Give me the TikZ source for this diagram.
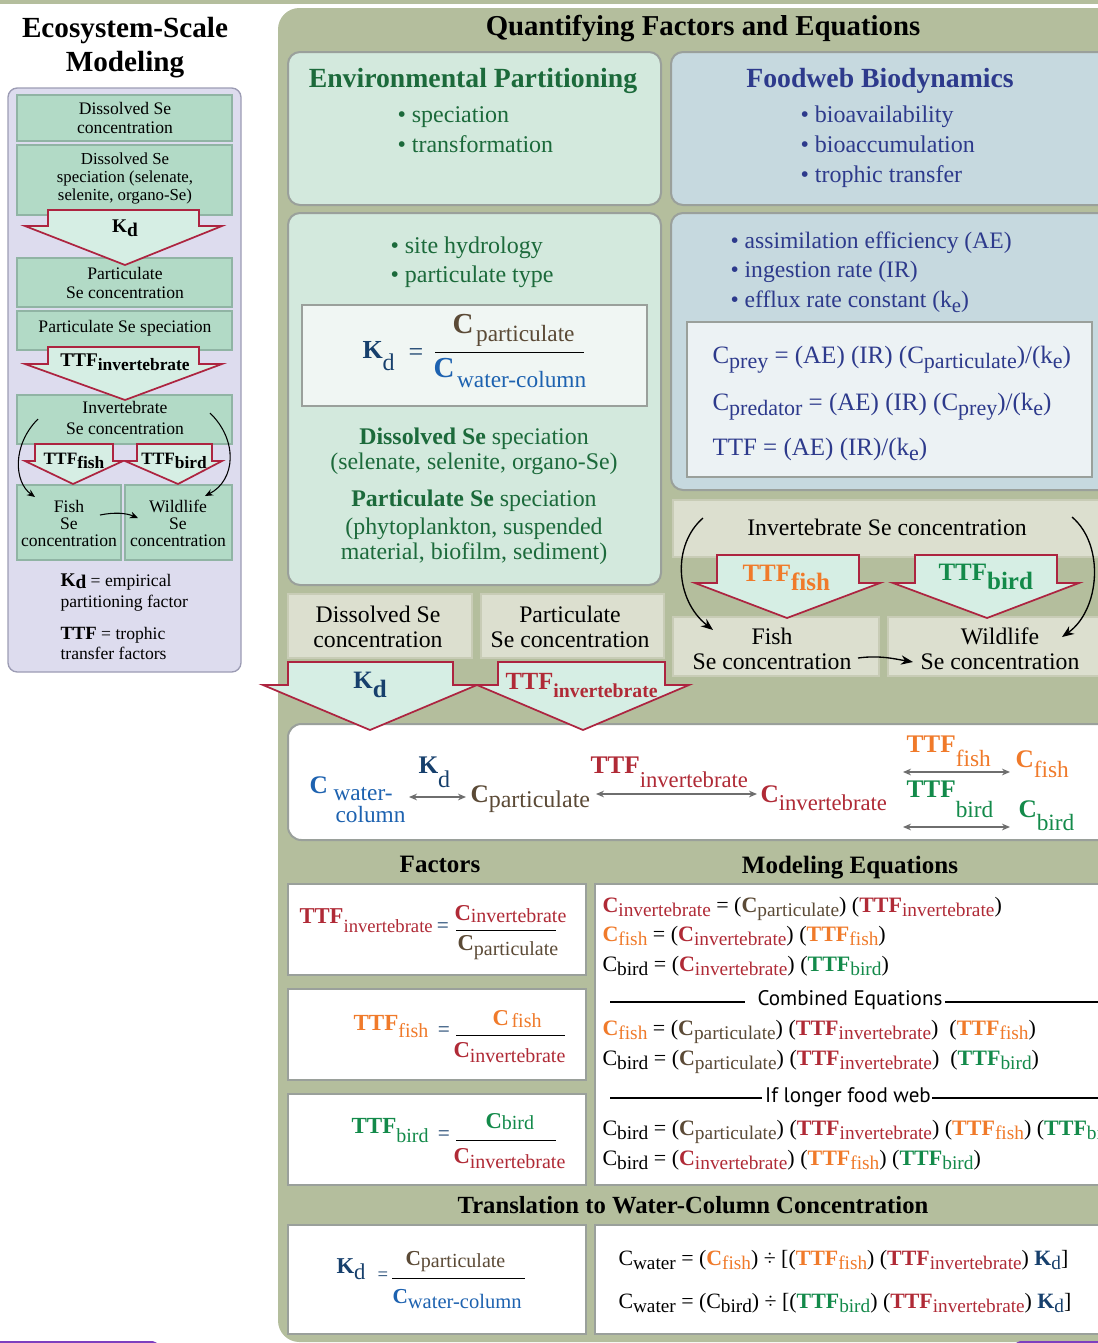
\documentclass[tikz,border=0pt]{standalone}
\usepackage{fontspec}
\usepackage{graphicx}
\setmainfont{Liberation Serif}
\newfontfamily\sansf{PT Sans}
\usetikzlibrary{arrows.meta}

\definecolor{olivebg}{HTML}{B4BE9D}
\definecolor{lavfill}{HTML}{DDDCEE}
\definecolor{lavbd}{HTML}{9C9CB4}
\definecolor{lgreen}{HTML}{B2DAC6}
\definecolor{lgreenbd}{HTML}{90B4A4}
\definecolor{arrfill}{HTML}{D6EEE4}
\definecolor{crim}{HTML}{AD2440}
\definecolor{crimtx}{HTML}{B02A36}
\definecolor{envfill}{HTML}{D3E9DD}
\definecolor{fwfill}{HTML}{C6D9DF}
\definecolor{boxbd}{HTML}{9AA09B}
\definecolor{envin}{HTML}{F0F6F3}
\definecolor{fwin}{HTML}{ECF2F4}
\definecolor{beigefill}{HTML}{DCDFCF}
\definecolor{beigebd}{HTML}{C8CCB6}
\definecolor{dkgreen}{HTML}{1C6A3B}
\definecolor{navyfw}{HTML}{2D3A8C}
\definecolor{navyk}{HTML}{163F6C}
\definecolor{cblue}{HTML}{1D62B0}
\definecolor{brn}{HTML}{5B4A36}
\definecolor{orng}{HTML}{F07A2A}
\definecolor{grn}{HTML}{138A4A}
\definecolor{arrgray}{HTML}{6E6E6E}
\definecolor{purp}{HTML}{7E3FBF}

\newcommand{\fsz}[2]{\fontsize{#1}{#2}\selectfont}
\newcommand{\dn}[2]{\raisebox{-#1pt}{#2}}
\newcommand{\sbx}[2][3]{\raisebox{-#1pt}{\scalebox{.88}{#2}}}
\newcommand{\Cc}[3][3]{{\color{#2}\textbf{C}\sbx[#1]{#3}}}
\newcommand{\Tt}[3][3]{{\color{#2}\textbf{TTF}\sbx[#1]{#3}}}
\newcommand{\Cn}[2][3]{C\sbx[#1]{#2}}
\newcommand{\Kdd}[1][3]{{\color{navyk}\textbf{K}\sbx[#1]{d}}}
\newcommand{\lsz}{\fsz{13.2}{15}}

\tikzset{every picture/.style={line width=0.75pt}}
\tikzset{
  txt/.style={inner sep=0pt, anchor=base},
  txtw/.style={inner sep=0pt, anchor=base west},
  lbox/.style={fill=lgreen, draw=lgreenbd, line width=1pt},
  lavpanel/.style={fill=lavfill, draw=lavbd, line width=1pt, rounded corners=7},
  bigarr/.style={fill=arrfill, draw=crim, line width=1.3pt},
  envbox/.style={fill=envfill, draw=boxbd, line width=1.5pt, rounded corners=9},
  fwbox/.style={fill=fwfill, draw=boxbd, line width=1.5pt, rounded corners=9},
  beige/.style={fill=beigefill, draw=beigebd, line width=1.2pt},
  wbox/.style={fill=white, draw=boxbd, line width=1.5pt},
  curv/.style={-{Stealth[length=9pt,width=7pt]}, line width=1pt},
  curvs/.style={-{Stealth[length=6pt,width=5pt]}, line width=0.8pt},
  dbl/.style={{Stealth[length=6pt,width=5pt]}-{Stealth[length=6pt,width=5pt]}, draw=arrgray, line width=1.4pt},
  rule/.style={line width=1.1pt},
}

\begin{document}
\begin{tikzpicture}[x=0.75pt,y=0.75pt,yscale=-1,xscale=1]
\path[use as bounding box] (0,0) rectangle (1098,1343);
%Shape: Rectangle
\fill[olivebg] (0,0) rectangle (1098,4);

%%%%%%%%%% left column
% Text Node
\draw (125,37) node (lttlA) [txt, font=\fsz{21.9}{24}\bfseries] {Ecosystem-Scale};
% Text Node
\draw (125,71) node (lttlB) [txt, font=\fsz{21.9}{24}\bfseries] {Modeling};
%Shape: Rounded Rectangle
\draw[lavpanel] (8,88) rectangle (241,672);
%Shape: Rectangle
\draw[lbox] (17,95) rectangle (232,141);
\draw[lbox] (17,145) rectangle (232,215);
\draw[lbox] (17,258) rectangle (232,307);
\draw[lbox] (17,311) rectangle (232,350);
\draw[lbox] (17,395) rectangle (232,444);
\draw[lbox] (17,485) rectangle (121,560);
\draw[lbox] (125,485) rectangle (232,560);
% Text Node
\draw (125,114) node (ldsA) [txt, font=\lsz] {Dissolved Se};
\draw (125,133) node (ldsB) [txt, font=\lsz] {concentration};
\draw (125,164) node (ldpA) [txt, font=\fsz{12.6}{14}] {Dissolved Se};
\draw (125,182) node (ldpB) [txt, font=\fsz{12.6}{14}] {speciation (selenate,};
\draw (125,200) node (ldpC) [txt, font=\fsz{12.6}{14}] {selenite, organo-Se)};
\draw (125,279) node (lpcA) [txt, font=\lsz] {Particulate};
\draw (125,298) node (lpcB) [txt, font=\lsz] {Se concentration};
\draw (125,332) node (lpsA) [txt, font=\lsz] {Particulate Se speciation};
\draw (125,413) node (licA) [txt, font=\lsz] {Invertebrate};
\draw (125,434) node (licB) [txt, font=\lsz] {Se concentration};
\draw (69,512) node (lfcA) [txt, font=\lsz] {Fish};
\draw (69,529) node (lfcB) [txt, font=\lsz] {Se};
\draw (69,546) node (lfcC) [txt, font=\lsz] {concentration};
\draw (178,512) node (lwcA) [txt, font=\lsz] {Wildlife};
\draw (178,529) node (lwcB) [txt, font=\lsz] {Se};
\draw (178,546) node (lwcC) [txt, font=\lsz] {concentration};
%Shape: Down Arrow
\draw[bigarr] (48,210) -- (199,210) -- (199,226) -- (222,226) -- (125,265) -- (25,226) -- (48,226) -- cycle;
\draw (125,232) node (lkd) [txt, font=\fsz{14.5}{16}\bfseries] {K\dn{3}{d}};
%Shape: Down Arrow
\draw[bigarr] (48,347) -- (199,347) -- (199,364) -- (222,364) -- (125,400) -- (25,364) -- (48,364) -- cycle;
\draw (125,366) node (lttfi) [txt, font=\fsz{14.5}{16}\bfseries] {TTF\dn{3}{\scalebox{.9}{invertebrate}}};
%Shape: Down Arrow
\draw[bigarr] (35,444) -- (113,444) -- (113,461) -- (123,461) -- (73,484) -- (25,461) -- (35,461) -- cycle;
\draw (74,464) node (lttff) [txt, font=\fsz{13}{15}\bfseries] {TTF\dn{3}{fish}};
%Shape: Down Arrow
\draw[bigarr] (137,444) -- (212,444) -- (212,461) -- (222,461) -- (178,484) -- (125,461) -- (137,461) -- cycle;
\draw (174,464) node (lttfb) [txt, font=\fsz{13}{15}\bfseries] {TTF\dn{3}{bird}};
%Curve Lines
\coordinate (liA) at (38,419);
\coordinate (lfA) at (35,497);
\coordinate (liB) at (210,413);
\coordinate (lwB) at (205,496);
\coordinate (lfC) at (100,515);
\coordinate (lwC) at (138,518);
\draw[curvs] (liA) .. controls (12,445) and (14,482) .. (lfA);
\draw[curvs] (liB) .. controls (238,440) and (236,480) .. (lwB);
\draw[curvs] (lfC) .. controls (115,512) and (126,513) .. (lwC);
% Text Node
\draw (60,586) node (lgA) [txtw, font=\lsz] {{\fsz{14.5}{16}\bfseries K\dn{1.5}{d}} = empirical};
\draw (60,607) node (lgB) [txtw, font=\lsz] {partitioning factor};
\draw (60,639) node (lgC) [txtw, font=\lsz] {{\fsz{14}{16}\bfseries TTF} = trophic};
\draw (60,659) node (lgD) [txtw, font=\lsz] {transfer factors};
%Shape: Rounded Rectangle
\fill[purp, rounded corners=4] (-10,1341) rectangle (158,1355);

%%%%%%%%%% right panel
%Shape: Rounded Rectangle
\fill[olivebg, rounded corners=16] (278,8) rectangle (1130,1342);
\draw (703,35) node (qttl) [txt, font=\fsz{21.6}{24}\bfseries] {Quantifying Factors and Equations};

%Shape: Rounded Rectangle
\draw[envbox] (288,52) rectangle (661,205);
\draw (473,87) node (envttl) [txt, font=\fsz{20.8}{24}\bfseries, text=dkgreen] {Environmental Partitioning};
\draw (397,122) node (envA) [txtw, font=\fsz{18}{21}, text=dkgreen] {\textbullet\ speciation};
\draw (397,152) node (envB) [txtw, font=\fsz{18}{21}, text=dkgreen] {\textbullet\ transformation};
%Shape: Rounded Rectangle
\draw[fwbox] (671,52) rectangle (1120,205);
\draw (880,87) node (fwttl) [txt, font=\fsz{20.8}{24}\bfseries, text=navyfw] {Foodweb Biodynamics};
\draw (800,122) node (fwA) [txtw, font=\fsz{18}{21}, text=navyfw] {\textbullet\ bioavailability};
\draw (800,152) node (fwB) [txtw, font=\fsz{18}{21}, text=navyfw] {\textbullet\ bioaccumulation};
\draw (800,182) node (fwC) [txtw, font=\fsz{18}{21}, text=navyfw] {\textbullet\ trophic transfer};

%Shape: Rounded Rectangle
\draw[envbox] (288,213) rectangle (661,585);
\draw (390,253) node (envC) [txtw, font=\fsz{18}{21}, text=dkgreen] {\textbullet\ site hydrology};
\draw (390,282) node (envD) [txtw, font=\fsz{18}{21}, text=dkgreen] {\textbullet\ particulate type};
%Shape: Rectangle
\draw[fill=envin, draw=boxbd, line width=1.5pt] (302,305) rectangle (647,406);
\draw (362,358) node (ekd) [txtw, font=\fsz{19.5}{22}\bfseries, text=navyk] {K\dn{9.5}{\fsz{18}{20}\mdseries d}};
\draw (416,360) node (eeq) [txt, font=\fsz{19.5}{22}, text=navyk] {=};
\draw (452,333) node (enum) [txtw, font=\fsz{21.75}{24}, text=brn] {\textbf{C}\hspace{2pt}\dn{6}{\fsz{17.5}{20}particulate}};
\draw (435,352) -- (584,352);
\draw (433,377) node (eden) [txtw, font=\fsz{21.75}{24}, text=cblue] {\textbf{C}\hspace{2pt}\dn{7.5}{\fsz{17.5}{20}water-column}};
\draw (474,444) node (edsA) [txt, font=\fsz{17.9}{21}, text=dkgreen] {\textbf{Dissolved Se} speciation};
\draw (474,469) node (edsB) [txt, font=\fsz{17.9}{21}, text=dkgreen] {(selenate, selenite, organo-Se)};
\draw (474,506) node (epsA) [txt, font=\fsz{17.9}{21}, text=dkgreen] {\textbf{Particulate Se} speciation};
\draw (474,534) node (epsB) [txt, font=\fsz{17.9}{21}, text=dkgreen] {(phytoplankton, suspended};
\draw (474,559) node (epsC) [txt, font=\fsz{17.9}{21}, text=dkgreen] {material, biofilm, sediment)};

%Shape: Rounded Rectangle
\draw[fwbox] (671,213) rectangle (1120,490);
\draw (730,248) node (fwD) [txtw, font=\fsz{17.7}{21}, text=navyfw] {\textbullet\ assimilation efficiency (AE)};
\draw (730,277) node (fwE) [txtw, font=\fsz{17.7}{21}, text=navyfw] {\textbullet\ ingestion rate (IR)};
\draw (730,307) node (fwF) [txtw, font=\fsz{17.7}{21}, text=navyfw] {\textbullet\ efflux rate constant (k\sbx[4]{e})};
%Shape: Rectangle
\draw[fill=fwin, draw=boxbd, line width=1.5pt] (687,322) rectangle (1092,477);
\draw (712,363) node (feqA) [txtw, font=\fsz{18.75}{21}, text=navyfw] {C\sbx[4]{prey} = (AE) (IR) (C\sbx[4]{particulate})/(k\sbx[4]{e})};
\draw (712,410) node (feqB) [txtw, font=\fsz{18.75}{21}, text=navyfw] {C\sbx[4]{predator} = (AE) (IR) (C\sbx[4]{prey})/(k\sbx[4]{e})};
\draw (712,455) node (feqC) [txtw, font=\fsz{18.75}{21}, text=navyfw] {TTF = (AE) (IR)/(k\sbx[4]{e})};

%Shape: Rectangle
\draw[beige] (288,594) rectangle (472,658);
\draw[beige] (481,594) rectangle (664,658);
\draw[beige] (673,500) rectangle (1120,557);
\draw[beige] (673,617) rectangle (879,676);
\draw[beige] (888,617) rectangle (1120,676);
\draw (378,622) node (bdsA) [txt, font=\fsz{17.8}{21}] {Dissolved Se};
\draw (378,647) node (bdsB) [txt, font=\fsz{17.8}{21}] {concentration};
\draw (570,622) node (bpcA) [txt, font=\fsz{17.8}{21}] {Particulate};
\draw (570,647) node (bpcB) [txt, font=\fsz{17.8}{21}] {Se concentration};
\draw (887,535) node (bic) [txt, font=\fsz{17.8}{21}] {Invertebrate Se concentration};
\draw (772,644) node (bfcA) [txt, font=\fsz{17.8}{21}] {Fish};
\draw (772,669) node (bfcB) [txt, font=\fsz{17.8}{21}] {Se concentration};
\draw (1000,644) node (bwcA) [txt, font=\fsz{17.8}{21}] {Wildlife};
\draw (1000,669) node (bwcB) [txt, font=\fsz{17.8}{21}] {Se concentration};

%Shape: Rounded Rectangle
\draw[wbox, rounded corners=10] (288,724) rectangle (1120,840);

%Shape: Down Arrow
\draw[bigarr] (288,662) -- (453,662) -- (453,685) -- (477,685) -- (370,730) -- (263,685) -- (288,685) -- cycle;
\draw (370,688) node (bkd) [txt, font=\fsz{18.75}{21}\bfseries, text=navyk] {K\dn{7}{d}};
%Shape: Down Arrow
\draw[bigarr] (498,662) -- (665,662) -- (665,685) -- (689,685) -- (583,730) -- (477,685) -- (498,685) -- cycle;
\draw (505,689) node (bttfi) [txtw, font=\fsz{18.5}{21}\bfseries, text=crimtx] {TTF\dn{6}{\scalebox{.8}{invertebrate}}};
%Shape: Down Arrow
\draw[bigarr] (717,555) -- (859,555) -- (859,583) -- (880,583) -- (787,618) -- (695,583) -- (717,583) -- cycle;
\draw (742,581) node (bttff) [txtw, font=\fsz{18.75}{21}\bfseries, text=orng] {TTF\dn{7}{fish}};
%Shape: Down Arrow
\draw[bigarr] (915,555) -- (1057,555) -- (1057,583) -- (1079,583) -- (987,618) -- (893,583) -- (915,583) -- cycle;
\draw (938,580) node (bttfb) [txtw, font=\fsz{18.75}{21}\bfseries, text=grn] {TTF\dn{7}{bird}};
%Curve Lines
\coordinate (riA) at (703,518);
\coordinate (rfA) at (713,630);
\coordinate (riB) at (1072,517);
\coordinate (rwB) at (1062,637);
\coordinate (rfC) at (858,658);
\coordinate (rwC) at (913,662);
\draw[curv] (riA) .. controls (672,545) and (675,600) .. (rfA);
\draw[curv] (riB) .. controls (1105,545) and (1100,610) .. (rwB);
\draw[curv] (rfC) .. controls (880,655) and (895,659) .. (rwC);

% white band
\draw (309,793) node (wcw) [txtw, font=\fsz{19}{21}\bfseries, text=cblue] {C};
\draw (333,800) node (wcwA) [txtw, font=\fsz{17.5}{20}, text=cblue] {water-};
\draw (335,822) node (wcwB) [txtw, font=\fsz{17.5}{20}, text=cblue] {column};
\draw (418,773) node (wkd) [txtw, font=\fsz{19}{21}, text=navyk] {\textbf{K}\dn{11}{\fsz{18}{20}d}};
\draw (470,802) node (wcp) [txtw, font=\fsz{19}{21}, text=brn] {\textbf{C}\dn{3.75}{\fsz{18}{20}particulate}};
\draw (590,773) node (wti) [txtw, font=\fsz{19}{21}, text=crimtx] {\textbf{TTF}\dn{10.5}{\fsz{17}{20}invertebrate}};
\draw (760,802) node (wci) [txtw, font=\fsz{19}{21}, text=crimtx] {\textbf{C}\dn{6}{\fsz{17}{20}invertebrate}};
\draw (906,752) node (wtf) [txtw, font=\fsz{19}{21}, text=orng] {\textbf{TTF}\dn{11}{\fsz{17.5}{20}fish}};
\draw (1015,767) node (wcf) [txtw, font=\fsz{19}{21}, text=orng] {\textbf{C}\dn{7.5}{\fsz{17.5}{20}fish}};
\draw (906,797) node (wtb) [txtw, font=\fsz{19}{21}, text=grn] {\textbf{TTF}\dn{15}{\fsz{17.5}{20}bird}};
\draw (1018,817) node (wcb) [txtw, font=\fsz{19}{21}, text=grn] {\textbf{C}\dn{9.75}{\fsz{17.5}{20}bird}};
\coordinate (wa1) at (409,797);
\coordinate (wa2) at (466,797);
\coordinate (wa3) at (596,794);
\coordinate (wa4) at (757,794);
\coordinate (wa5) at (903,772);
\coordinate (wa6) at (1010,772);
\coordinate (wa7) at (903,827);
\coordinate (wa8) at (1010,827);
\draw[dbl] (wa1) -- (wa2);
\draw[dbl] (wa3) -- (wa4);
\draw[dbl] (wa5) -- (wa6);
\draw[dbl] (wa7) -- (wa8);

% Text Node
\draw (440,872) node (hfac) [txt, font=\fsz{18.75}{21}\bfseries] {Factors};
\draw (850,873) node (hmod) [txt, font=\fsz{18.75}{21}\bfseries] {Modeling Equations};

%Shape: Rectangle
\draw[wbox] (288,884) rectangle (586,975);
\draw[wbox] (288,989) rectangle (586,1080);
\draw[wbox] (288,1094) rectangle (586,1185);
\draw[wbox] (595,884) rectangle (1120,1185);

\draw (299,923) node (fti) [txtw, font=\fsz{17}{19}, text=crimtx] {\textbf{TTF}\dn{6.75}{\fsz{14}{16}invertebrate}};
\draw (443,932) node (fteA) [txt, font=\fsz{16}{18}, text=navyk] {=};
\draw (454,920) node (ftiN) [txtw, font=\fsz{17}{19}, text=crimtx] {\textbf{C}\dn{1.5}{\fsz{15}{17}invertebrate}};
\draw (456,930) -- (556,930);
\draw (457,950) node (ftiD) [txtw, font=\fsz{17}{19}, text=brn] {\textbf{C}\dn{3.75}{\fsz{15}{17}particulate}};

\draw (353,1030) node (ftf) [txtw, font=\fsz{17.3}{19}, text=orng] {\textbf{TTF}\dn{5.25}{\fsz{15}{17}fish}};
\draw (444,1036) node (fteB) [txt, font=\fsz{16}{18}, text=navyk] {=};
\draw (492,1025) node (ftfN) [txtw, font=\fsz{17}{19}, text=orng] {\textbf{C}\hspace{2pt}\dn{1.5}{\fsz{15}{17}fish}};
\draw (456,1035) -- (565,1035);
\draw (453,1057) node (ftfD) [txtw, font=\fsz{17}{19}, text=crimtx] {\textbf{C}\dn{3.75}{\fsz{15}{17}invertebrate}};

\draw (351,1133) node (ftb) [txtw, font=\fsz{17.3}{19}, text=grn] {\textbf{TTF}\dn{6.75}{\fsz{15}{17}bird}};
\draw (444,1140) node (fteC) [txt, font=\fsz{16}{18}, text=navyk] {=};
\draw (485,1128) node (ftbN) [txtw, font=\fsz{17}{19}, text=grn] {\textbf{C}\dn{1}{\fsz{15}{17}bird}};
\draw (456,1140) -- (556,1140);
\draw (453,1163) node (ftbD) [txtw, font=\fsz{17}{19}, text=crimtx] {\textbf{C}\dn{3.75}{\fsz{15}{17}invertebrate}};

% Modeling equations
\draw (602,912) node (meqA) [txtw, font=\fsz{16.5}{19}] {\Cc{crimtx}{invertebrate} = (\Cc{brn}{particulate}) (\Tt{crimtx}{invertebrate})};
\draw (602,941) node (meqB) [txtw, font=\fsz{16.5}{19}] {\Cc{orng}{fish} = (\Cc{crimtx}{invertebrate}) (\Tt{orng}{fish})};
\draw (602,971) node (meqC) [txtw, font=\fsz{16.5}{19}] {\Cn{bird} = (\Cc{crimtx}{invertebrate}) (\Tt{grn}{bird})};
\draw (850,1005) node (hcomb) [txt, font=\sansf\fsz{15.8}{18}] {Combined Equations};
\draw[rule] (610,1002) -- (745,1002);
\draw[rule] (945,1002) -- (1098,1002);
\draw (602,1035) node (meqD) [txtw, font=\fsz{16.5}{19}] {\Cc{orng}{fish} = (\Cc{brn}{particulate}) (\Tt{crimtx}{invertebrate})\ \ (\Tt{orng}{fish})};
\draw (602,1065) node (meqE) [txtw, font=\fsz{16.5}{19}] {\Cn{bird} = (\Cc{brn}{particulate}) (\Tt{crimtx}{invertebrate})\ \ (\Tt{grn}{bird})};
\draw (848,1102) node (hlong) [txt, font=\sansf\fsz{15.8}{18}] {If longer food web};
\draw[rule] (610,1098) -- (762,1098);
\draw[rule] (932,1098) -- (1098,1098);
\draw (602,1135) node (meqF) [txtw, font=\fsz{16.5}{19}] {\Cn{bird} = (\Cc{brn}{particulate}) (\Tt{crimtx}{invertebrate}) (\Tt{orng}{fish}) (\Tt{grn}{bird})};
\draw (602,1165) node (meqG) [txtw, font=\fsz{16.5}{19}] {\Cn{bird} = (\Cc{crimtx}{invertebrate}) (\Tt{orng}{fish}) (\Tt{grn}{bird})};

% Translation
\draw (693,1213) node (htrans) [txt, font=\fsz{18.5}{21}\bfseries] {Translation to Water-Column Concentration};
\draw[wbox] (288,1225) rectangle (586,1334);
\draw[wbox] (595,1225) rectangle (1120,1334);
\draw (336,1273) node (tkd) [txtw, font=\fsz{17}{19}, text=navyk] {\textbf{K}\dn{5}{d}};
\draw (383,1280) node (teq) [txt, font=\fsz{14}{16}, text=navyk] {=};
\draw (405,1265) node (tnum) [txtw, font=\fsz{16}{19}, text=brn] {\textbf{C}\dn{1.5}{\fsz{15}{17}particulate}};
\draw (392,1278) -- (525,1278);
\draw (392,1303) node (tden) [txtw, font=\fsz{16}{19}, text=cblue] {\textbf{C}\dn{3.75}{\fsz{15.4}{17}water-column}};
\draw (618,1265) node (teqA) [txtw, font=\fsz{16.4}{19}] {\Cn{water} = (\Cc{orng}{fish}) \textdiv\ [(\Tt{orng}{fish}) (\Tt{crimtx}{invertebrate}) \Kdd]};
\draw (618,1308) node (teqB) [txtw, font=\fsz{16.4}{19}] {\Cn{water} = (\Cn{bird}) \textdiv\ [(\Tt{grn}{bird}) (\Tt{crimtx}{invertebrate}) \Kdd]};
%Shape: Rounded Rectangle
\fill[purp, rounded corners=4] (1015,1341) rectangle (1120,1355);
\end{tikzpicture}
\end{document}
